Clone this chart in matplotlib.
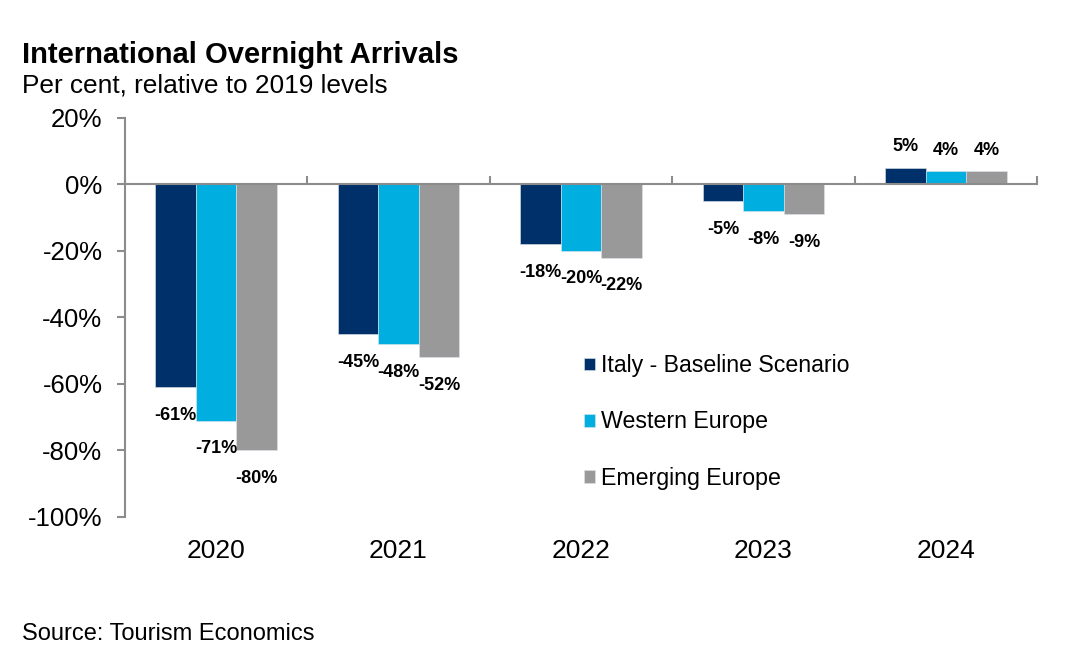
import numpy as np
import matplotlib
matplotlib.use('Agg')
import matplotlib.pyplot as plt
from matplotlib.ticker import FuncFormatter, FixedLocator

plt.rcParams['font.family'] = ['Liberation Sans', 'DejaVu Sans']

# Data
years = ['2020', '2021', '2022', '2023', '2024']
italy = [-61, -45, -18, -5, 5]
western = [-71, -48, -20, -8, 4]
emerging = [-80, -52, -22, -9, 4]
series_names = ['Italy - Baseline Scenario', 'Western Europe', 'Emerging Europe']
colors = ['#003069', '#00AEE0', '#999999']

fig = plt.figure(figsize=(10.65, 6.59), dpi=100)
ax = fig.add_axes([0.117, 0.2155, 0.857, 0.6055])

x = np.arange(len(years))
width = 0.222
for i, (vals, name, col) in enumerate(zip([italy, western, emerging], series_names, colors)):
    bars = ax.bar(x + (i - 1) * width, vals, width, color=col, label=name,
                  edgecolor='#dde3ea', linewidth=0.4)
    # negative labels sit a bit further from the bar end than positive ones
    ax.bar_label(bars, labels=['%d%%' % v if v < 0 else '' for v in vals],
                 padding=14, fontsize=13, fontweight='bold')
    ax.bar_label(bars, labels=['%d%%' % v if v >= 0 else '' for v in vals],
                 padding=9, fontsize=13, fontweight='bold')

# Axes styling
ax.set_ylim(-100, 20)
ax.set_xlim(-0.5, len(years) - 0.5)
ax.set_yticks(np.arange(-100, 21, 20))
ax.yaxis.set_major_formatter(FuncFormatter(lambda v, p: '%d%%' % v))
ax.tick_params(axis='y', labelsize=18.5, length=6, width=1.5, color='#8c8c8c', pad=10)

for s in ['top', 'right']:
    ax.spines[s].set_visible(False)
ax.spines['left'].set_color('#8c8c8c')
ax.spines['left'].set_linewidth(1.5)
ax.spines['bottom'].set_color('#8c8c8c')
ax.spines['bottom'].set_linewidth(1.5)
ax.spines['bottom'].set_position(('data', 0))

ax.set_xticks(x)
ax.set_xticklabels(years)
ax.tick_params(axis='x', which='major', length=0, labelsize=19, pad=255)
ax.xaxis.set_minor_locator(FixedLocator(np.arange(-0.5, len(years), 1.0)))
ax.tick_params(axis='x', which='minor', direction='in', length=6, width=1.5, color='#8c8c8c')

leg = ax.legend(loc='upper left', bbox_to_anchor=(0.493, 0.431), frameon=False,
                fontsize=16.7, handlelength=0.47, handleheight=0.47,
                handletextpad=0.25, labelspacing=1.43, borderaxespad=0)

# Titles and source
fig.text(0.021, 0.904, 'International Overnight Arrivals', fontsize=21,
         fontweight='bold', va='baseline')
fig.text(0.021, 0.860, 'Per cent, relative to 2019 levels', fontsize=18.9,
         va='baseline')
fig.text(0.021, 0.029, 'Source: Tourism Economics', fontsize=17, va='baseline')

fig.savefig('out.png', dpi=100)
